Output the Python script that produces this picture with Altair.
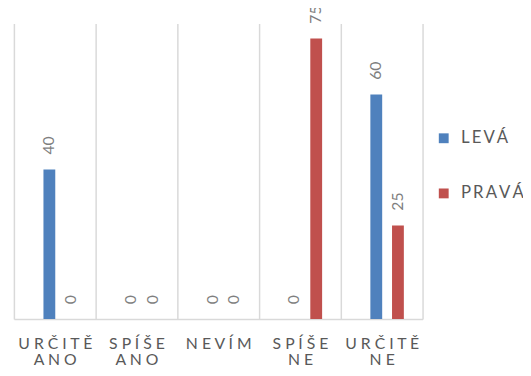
import altair as alt
import pandas as pd

categories = ["URČITĚ ANO", "SPÍŠE ANO", "NEVÍM", "SPÍŠE NE", "URČITĚ NE"]
series = ["LEVÁ", "PRAVÁ"]
leva = [40, 0, 0, 0, 60]
prava = [0, 0, 0, 75, 25]
colors = ["#4F81BD", "#C0504D"]

rows = []
for c, a, b in zip(categories, leva, prava):
    rows.append({"cat": c, "series": series[0], "value": a})
    rows.append({"cat": c, "series": series[1], "value": b})
df = pd.DataFrame(rows)


def spaced(word, sp=" "):
    return sp.join(list(word))


def js(s):
    return "'" + s.replace("'", "\\'") + "'"


expr = "''"
for c in reversed(categories):
    lines = "[" + ",".join(js(spaced(w)) for w in c.split(" ")) + "]"
    expr = f"datum.value == {js(c)} ? {lines} : ({expr})"

leg_expr = "''"
for s in reversed(series):
    leg_expr = f"datum.value == {js(s)} ? {js(spaced(s, chr(0x200A) * 2))} : ({leg_expr})"

FONT = "Lato"

base = alt.Chart(df).encode(
    x=alt.X(
        "cat:N",
        sort=categories,
        title=None,
        scale=alt.Scale(paddingInner=0, paddingOuter=0),
        axis=alt.Axis(
            labelAngle=0,
            labelExpr=expr,
            labelFontSize=16,
            labelFont=FONT,
            labelColor="#595959",
            labelPadding=17,
            labelLineHeight=16.5,
            ticks=False,
            grid=True,
            gridColor="#d9d9d9",
            gridWidth=1.5,
            tickBand="extent",
            domainColor="#d9d9d9",
            domainWidth=1.5,
        ),
    ),
    xOffset=alt.XOffset(
        "series:N",
        sort=series,
        scale=alt.Scale(range=[30, 64], paddingInner=0.4545, paddingOuter=0),
    ),
    y=alt.Y("value:Q", scale=alt.Scale(domain=[0, 79]), axis=None),
)

bars = base.mark_bar().encode(
    color=alt.Color(
        "series:N",
        sort=series,
        scale=alt.Scale(domain=series, range=colors),
        legend=alt.Legend(
            title=None,
            orient="none",
            legendX=428,
            legendY=108,
            symbolType="square",
            symbolSize=100,
            symbolStrokeWidth=0,
            labelFontSize=17,
            labelFont=FONT,
            labelColor="#595959",
            labelExpr=leg_expr,
            labelOffset=9,
            rowPadding=38,
            symbolOffset=0,
        ),
    )
)

labels = base.mark_text(
    angle=270,
    align="left",
    baseline="middle",
    dx=15,
    fontSize=16,
    font=FONT,
    color="#7f7f7f",
).encode(text="value:Q")

chart = (
    alt.layer(bars, labels)
    .properties(
        width=415,
        height=300,
        autosize="none",
        padding={"left": 6, "top": 13, "right": 102, "bottom": 47},
    )
    .configure_view(stroke=None)
)

chart.save("out.html", embed_options={"renderer": "svg", "actions": False})
